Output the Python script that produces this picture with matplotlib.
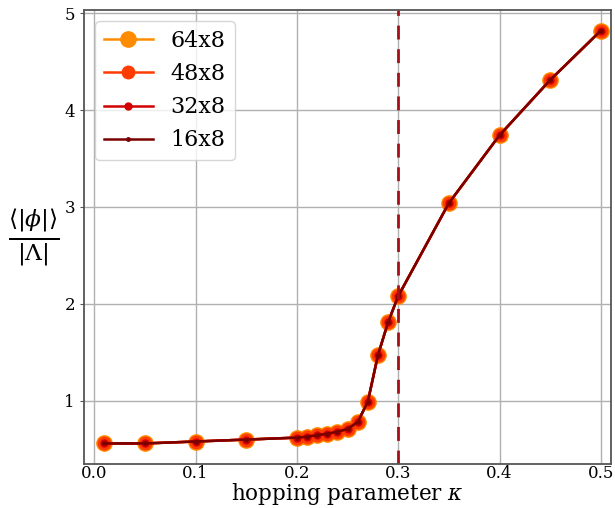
import numpy as np
import matplotlib
matplotlib.use('Agg')
import matplotlib.pyplot as plt

plt.rcParams['font.family'] = 'DejaVu Serif'
plt.rcParams['mathtext.fontset'] = 'dejavuserif'

kappa = [0.01, 0.05, 0.1, 0.15, 0.2, 0.21, 0.22, 0.23, 0.24, 0.25, 0.26,
         0.27, 0.28, 0.29, 0.3, 0.35, 0.4, 0.45, 0.5]
phi_64 = [0.56, 0.56, 0.58, 0.60, 0.62, 0.63, 0.645, 0.66, 0.68, 0.71, 0.78,
          0.99, 1.47, 1.81, 2.08, 3.04, 3.74, 4.31, 4.82]
phi_48 = [0.56, 0.56, 0.58, 0.60, 0.62, 0.63, 0.645, 0.66, 0.68, 0.71, 0.78,
          0.99, 1.47, 1.81, 2.08, 3.04, 3.74, 4.31, 4.82]
phi_32 = [0.56, 0.56, 0.58, 0.60, 0.62, 0.63, 0.645, 0.66, 0.68, 0.71, 0.78,
          0.99, 1.47, 1.81, 2.08, 3.04, 3.74, 4.31, 4.82]
phi_16 = [0.56, 0.56, 0.58, 0.60, 0.62, 0.63, 0.645, 0.66, 0.68, 0.71, 0.78,
          0.99, 1.47, 1.81, 2.08, 3.04, 3.74, 4.31, 4.82]
labels = ['64x8', '48x8', '32x8', '16x8']
kappa_c = 0.3

series = [phi_64, phi_48, phi_32, phi_16]
colors = ['#ff8c00', '#ff3c00', '#d40000', '#7a0000']
msizes = [11, 9, 5, 2.5]

fig = plt.figure(figsize=(6.15, 5.08), dpi=100)
ax = fig.add_axes([0.1366, 0.087, 0.857, 0.893])

for k in range(4):
    ax.plot(kappa, series[k], color=colors[k], marker='o', markersize=msizes[k],
            linewidth=1.8, label=labels[k])

ax.axvline(kappa_c, color='#a50f15', linestyle='--', linewidth=2, dashes=(5, 3.5))

ax.set_xlim(-0.01, 0.51)
ax.set_ylim(0.35, 5.03)
ax.set_yticks([1, 2, 3, 4, 5])
ax.grid(True, color='#b0b0b0', linewidth=1)
ax.set_axisbelow(True)
for s in ax.spines.values():
    s.set_color('#555555')
    s.set_linewidth(1.3)
ax.tick_params(labelsize=12, color='#555555', length=3)
ax.tick_params(axis='x', length=0, pad=1)

ax.set_xlabel(r'hopping parameter $\kappa$', fontsize=15.5, labelpad=-0.5)
ax.set_ylabel(r'$\frac{\langle|\phi|\rangle}{|\Lambda|}$', fontsize=24, rotation=0,
              labelpad=22, va='center')

ax.legend(loc='upper left', fontsize=16, numpoints=1, handlelength=2.2)

fig.savefig('out.png', dpi=100)
